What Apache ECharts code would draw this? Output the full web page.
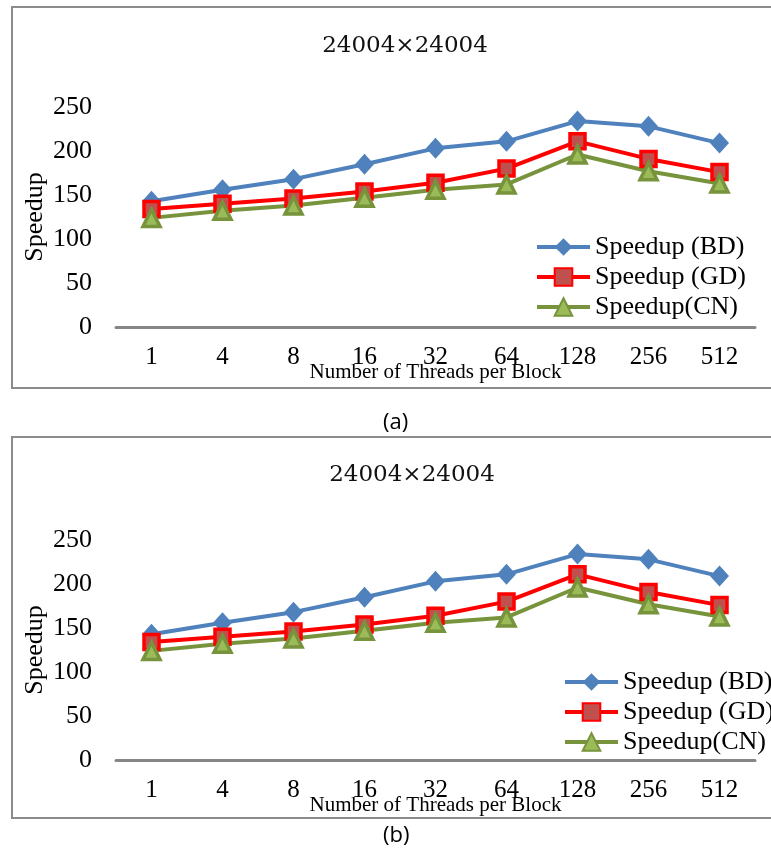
<!DOCTYPE html>
<html>
<head>
<meta charset="utf-8">
<title>Speedup 24004x24004</title>
<script src="https://cdn.jsdelivr.net/npm/echarts@6/dist/echarts.min.js"></script>
<style>
html,body{margin:0;padding:0;background:#fff;}
#chart{width:771px;height:855px;}
</style>
</head>
<body>
<div id="chart"></div>
<script>
// data (both panels show the same values)
var threads = ['1', '4', '8', '16', '32', '64', '128', '256', '512'];
var speedupBD = [143, 156, 168, 185, 203, 211, 234, 228, 209];
var speedupGD = [134, 140, 146, 154, 164, 180, 211, 191, 176];
var speedupCN = [124, 132, 138, 147, 156, 162, 196, 177, 163];
var yTicks = [0, 50, 100, 150, 200, 250];
var panelTitle = '24004×24004';
var names = ['Speedup (BD)', 'Speedup (GD)', 'Speedup(CN)'];

var serif = 'Liberation Serif';
var myChart = echarts.init(document.getElementById('chart'));

// one layout per panel: grid top, title position, legend position
var panels = [
    {top: 107, titleTop: 30, titleLeft: 400, legendLeft: 530, legendTop: 229},
    {top: 540, titleTop: 459, titleLeft: 407, legendLeft: 558, legendTop: 664}
];

var option = {
    animation: false,
    backgroundColor: '#fff',
    title: [], legend: [], grid: [], xAxis: [], yAxis: [], series: [],
    graphic: []
};

panels.forEach(function (p, i) {
    option.title.push({
        text: panelTitle,
        left: p.titleLeft, top: p.titleTop, textAlign: 'center',
        textStyle: {fontFamily: 'DejaVu Serif', fontSize: 23, fontWeight: 'normal', color: '#111'}
    });
    option.legend.push({
        data: names,
        orient: 'vertical',
        left: p.legendLeft, top: p.legendTop,
        itemWidth: 53, itemHeight: 22, itemGap: 4,
        lineStyle: {width: 4},
        textStyle: {fontFamily: serif, fontSize: 26, color: '#000', lineHeight: 26}
    });
    option.grid.push({left: 116, width: 639, top: p.top, height: 220});
    option.xAxis.push({
        type: 'category',
        gridIndex: i,
        data: threads,
        boundaryGap: true,
        axisLine: {lineStyle: {color: '#868686', width: 3}},
        axisTick: {show: false},
        axisLabel: {fontFamily: serif, fontSize: 25, color: '#000', margin: 18},
        name: 'Number of Threads per Block',
        nameLocation: 'middle',
        nameGap: 35,
        nameMoveOverlap: false,
        nameTextStyle: {fontFamily: serif, fontSize: 21, color: '#000'}
    });
    option.yAxis.push({
        type: 'value',
        gridIndex: i,
        min: yTicks[0], max: yTicks[yTicks.length - 1], interval: 50,
        axisLine: {show: false},
        axisTick: {show: false},
        splitLine: {show: false},
        axisLabel: {fontFamily: serif, fontSize: 26, color: '#000', margin: 24},
        name: 'Speedup',
        nameLocation: 'middle',
        nameGap: 68,
        nameMoveOverlap: false,
        nameTextStyle: {fontFamily: serif, fontSize: 26, color: '#000'}
    });
    option.series.push(
        {
            name: names[0], type: 'line', xAxisIndex: i, yAxisIndex: i,
            data: speedupBD,
            symbol: 'diamond', symbolSize: [19, 21],
            lineStyle: {color: '#4F81BD', width: 4},
            itemStyle: {color: '#4F81BD'}
        },
        {
            name: names[1], type: 'line', xAxisIndex: i, yAxisIndex: i,
            data: speedupGD,
            symbol: 'rect', symbolSize: 15,
            lineStyle: {color: '#FF0000', width: 4},
            itemStyle: {color: '#C0504D', borderColor: '#FF0000', borderWidth: 3.5}
        },
        {
            name: names[2], type: 'line', xAxisIndex: i, yAxisIndex: i,
            data: speedupCN,
            symbol: 'triangle', symbolSize: 17,
            lineStyle: {color: '#77933C', width: 4},
            itemStyle: {color: '#9BBB59', borderColor: '#77933C', borderWidth: 3.5}
        }
    );
});

// panel frames and captions
option.graphic = [
    {type: 'rect', shape: {x: 12, y: 7, width: 770, height: 381},
        style: {fill: 'none', stroke: '#8c8c8c', lineWidth: 2}},
    {type: 'rect', shape: {x: 12, y: 437, width: 770, height: 381},
        style: {fill: 'none', stroke: '#8c8c8c', lineWidth: 2}},
    {type: 'text', left: 383, top: 412,
        style: {text: '(a)', font: '22px "Open Sans"', fill: '#000'}},
    {type: 'text', left: 383, top: 825,
        style: {text: '(b)', font: '22px "Open Sans"', fill: '#000'}}
];

myChart.setOption(option);
</script>
</body>
</html>
